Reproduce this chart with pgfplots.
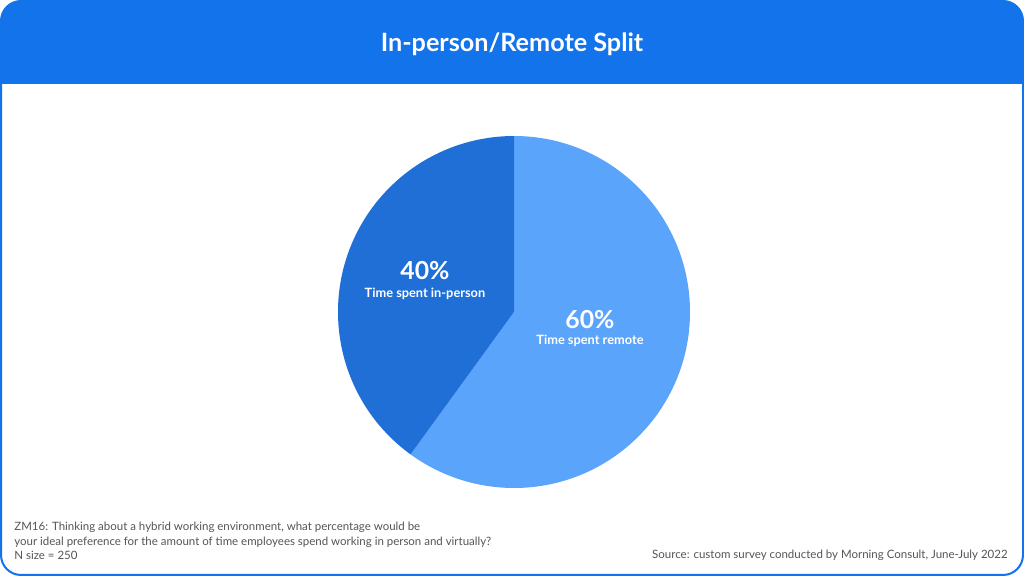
\documentclass[border=0pt]{standalone}
\usepackage{pgfplots}
\pgfplotsset{compat=1.18}
\usepackage{pgfplotstable}
\usepackage{fontspec}
\setmainfont{Lato}

\definecolor{hdr}{HTML}{1273EB}
\definecolor{remote}{HTML}{5BA4FC}
\definecolor{inperson}{HTML}{1F6FD6}
\definecolor{note}{HTML}{555555}

% share of time, percent
\pgfplotstableread{
label value
remote 60
inperson 40
}\piedata

\begin{document}
\begin{tikzpicture}
\pgfplotstablegetelem{0}{value}\of\piedata \let\vremote\pgfplotsretval
\pgfplotstablegetelem{1}{value}\of\piedata \let\vinperson\pgfplotsretval
\pgfmathsetmacro\angA{90-3.6*\vremote}
\pgfmathsetmacro\angB{\angA-3.6*\vinperson}
\def\R{88pt}
\begin{axis}[
    width=512pt, height=288pt, scale only axis,
    xmin=0, xmax=1024, ymin=0, ymax=576,
    y dir=reverse,
    hide axis, clip=false,
]
% frame and header
\begin{scope}
  \clip[rounded corners=10pt] (axis cs:1,1) rectangle (axis cs:1023,575);
  \fill[white] (axis cs:0,0) rectangle (axis cs:1024,576);
  \fill[hdr] (axis cs:0,0) rectangle (axis cs:1024,84);
\end{scope}
\draw[hdr, line width=1pt, rounded corners=10pt] (axis cs:1,1) rectangle (axis cs:1023,575);
\node[white, font=\fontsize{12.6}{15}\selectfont\bfseries] at (axis cs:512,44) {In-person/Remote Split};

% pie
\fill[remote] (axis cs:514,312) -- ++(90:\R) arc[start angle=90, end angle=\angA, radius=\R] -- cycle;
\fill[inperson] (axis cs:514,312) -- ++(\angA:\R) arc[start angle=\angA, end angle=\angB, radius=\R] -- cycle;

\node[white, font=\fontsize{12.4}{14}\selectfont\bfseries] at (axis cs:425,271) {40\%};
\node[white, font=\fontsize{6.4}{7}\selectfont\bfseries] at (axis cs:425,294) {Time spent in-person};
\node[white, font=\fontsize{12.4}{14}\selectfont\bfseries] at (axis cs:590,320) {60\%};
\node[white, font=\fontsize{6.4}{7}\selectfont\bfseries] at (axis cs:590,341) {Time spent remote};

% notes
\node[note, anchor=west, align=left, inner sep=0pt, font=\fontsize{5.74}{7.2}\selectfont] at (axis cs:14,541)
  {ZM16: Thinking about a hybrid working environment, what percentage would be\\
   your ideal preference for the amount of time employees spend working in person and virtually?\\
   N size = 250};
\node[note, anchor=east, inner sep=0pt, font=\fontsize{5.75}{7.2}\selectfont] at (axis cs:1008,555)
  {Source: custom survey conducted by Morning Consult, June-July 2022};
\end{axis}
\end{tikzpicture}
\end{document}
